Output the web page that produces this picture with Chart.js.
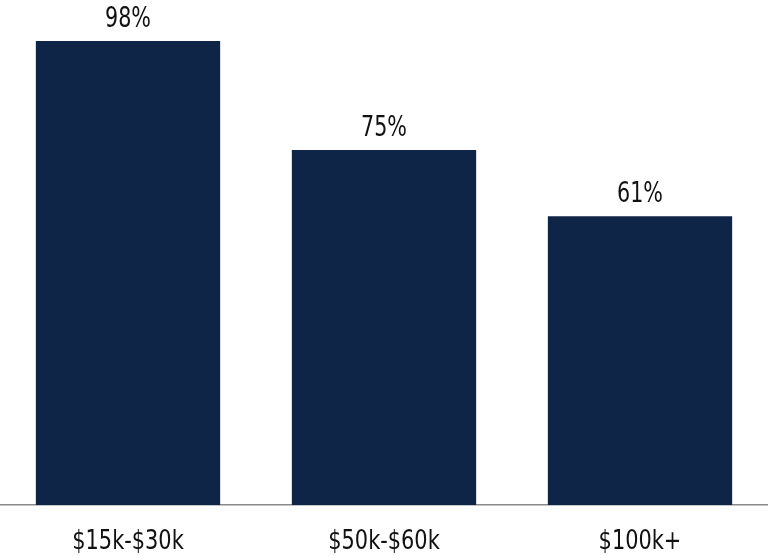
<!DOCTYPE html>
<html>
<head>
<meta charset="utf-8">
<script src="https://cdn.jsdelivr.net/npm/chart.js@4/dist/chart.umd.min.js"></script>
<style>
  html, body { margin: 0; padding: 0; background: #fff; }
  #wrap { width: 768px; height: 556px; position: relative; }
</style>
</head>
<body>
<div id="wrap"><canvas id="chart"></canvas></div>
<script>
// Renda familiar x percentual
const categories = ["$15k-$30k", "$50k-$60k", "$100k+"];
const values = [98, 75, 61];
const valueLabels = ["98%", "75%", "61%"];

const NAVY = "#0f2548";
const FONT = "'DejaVu Sans Condensed', 'Liberation Sans Narrow', sans-serif";

/** Texto estreito: escala horizontal para imitar a fonte condensada */
function narrowText(ctx, text, x, y, sx) {
  ctx.save();
  ctx.translate(x, y);
  ctx.scale(sx, 1);
  ctx.fillText(text, 0, 0);
  ctx.restore();
}

/** Escreve o valor acima de cada barra e os rótulos do eixo x */
const labelPlugin = {
  id: "narrowLabels",
  afterDatasetsDraw(chart) {
    const ctx = chart.ctx;
    const meta = chart.getDatasetMeta(0);
    const xScale = chart.scales.x;
    ctx.save();
    ctx.fillStyle = "#111";
    ctx.textAlign = "center";
    ctx.textBaseline = "alphabetic";
    ctx.font = "28px " + FONT;
    meta.data.forEach((bar, i) => {
      narrowText(ctx, valueLabels[i], bar.x, bar.y - 14, 0.82);
    });
    ctx.font = "27px " + FONT;
    categories.forEach((c, i) => {
      narrowText(ctx, c, xScale.getPixelForTick(i), xScale.top + 44, 0.86);
    });
    ctx.restore();
  }
};

new Chart(document.getElementById("chart"), {
  type: "bar",
  data: {
    labels: categories,
    datasets: [{
      data: values,
      backgroundColor: NAVY,
      borderWidth: 0,
      categoryPercentage: 1,
      barPercentage: 0.72
    }]
  },
  options: {
    responsive: true,
    maintainAspectRatio: false,
    animation: false,
    layout: { padding: { top: 31.5, left: 0, right: 0, bottom: 0 } },
    plugins: {
      legend: { display: false },
      tooltip: { enabled: false }
    },
    scales: {
      y: { display: false, min: 0, max: 100 },
      x: {
        grid: { display: false },
        border: { display: true, color: "#8a8a8a", width: 1.5 },
        ticks: { color: "rgba(0,0,0,0)", font: { size: 12 } },
        afterFit(scale) { scale.height = 51; }
      }
    }
  },
  plugins: [labelPlugin]
});
</script>
</body>
</html>
